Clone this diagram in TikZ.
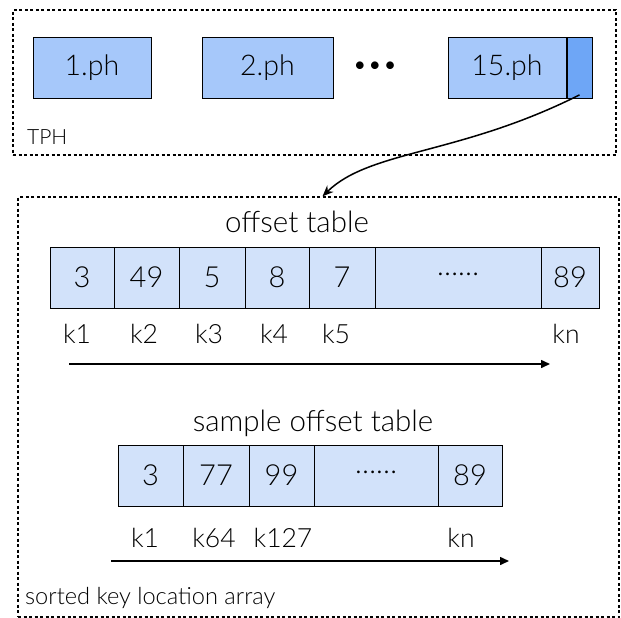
\documentclass[tikz,border=0pt]{standalone}
\usepackage{fontspec}
\setmainfont{Lato}[UprightFont=* Light]
\usetikzlibrary{arrows.meta}
\definecolor{phblue}{RGB}{166,200,250}
\definecolor{segblue}{RGB}{110,166,246}
\definecolor{cellblue}{RGB}{210,226,250}
\newcommand{\fsz}[1]{\fontsize{#1}{#1}\selectfont}

\begin{document}
\begin{tikzpicture}[x=1pt,y=-1pt,
  dashbox/.style={draw, line width=1.3pt, dash pattern=on 3pt off 2.5pt, inner sep=0pt},
  phbox/.style={draw, line width=0.8pt, fill=phblue, minimum height=61pt, inner sep=0pt, font=\fsz{28.5}},
  cell/.style={draw, line width=0.8pt, fill=cellblue, minimum height=61pt, inner sep=0pt, font=\fsz{29}},
  klabel/.style={font=\fsz{26.5}},
  title/.style={font=\fsz{29.5}},
  keyarrow/.style={line width=1.5pt, -{Triangle[length=9pt,width=8pt]}}]
  \useasboundingbox (0,0) rectangle (621,618);
  % TPH
  \node [dashbox, minimum width=603pt, minimum height=145pt] (tph) at (314.5,82.5) {};
  \node [font=\fsz{21}, anchor=west, inner sep=0pt] (tphlabel) at (27,137) {TPH};
  \node [phbox, minimum width=118pt] (ph1) at (92,68) {1.ph};
  \node [phbox, minimum width=131pt] (ph2) at (267.5,68) {2.ph};
  \node [font=\fsz{26}, inner sep=0pt] (phdots) at (375,68) {•••};
  \node [phbox, minimum width=118pt] (ph15) at (507,68) {15.ph};
  \node [phbox, fill=segblue, minimum width=25pt] (seg) at (579.5,68) {};
  % sorted key location array
  \node [dashbox, minimum width=601pt, minimum height=420pt] (ska) at (318.5,407) {};
  \node [font=\fsz{23.6}, anchor=west, inner sep=0pt] (skalabel) at (25,598) {sorted key location array};
  \draw [line width=1.5pt, -{Stealth[length=11pt,width=9pt]}] ([yshift=4pt]seg.south) .. controls (460,155) and (370,150) .. ([xshift=4pt]ska.north);
  % offset table
  \node [title] (otitle) at (297,222) {offset table};
  \node [cell, minimum width=64pt] (o1) at (82,277.5) {3};
  \node [cell, minimum width=65pt] (o2) at (146.5,277.5) {49};
  \node [cell, minimum width=66pt] (o3) at (212,277.5) {5};
  \node [cell, minimum width=64pt] (o4) at (277,277.5) {8};
  \node [cell, minimum width=66pt] (o5) at (342,277.5) {7};
  \node [cell, minimum width=166pt] (o6) at (458,277.5) {\raisebox{0.2em}{……}};
  \node [cell, minimum width=58pt] (o7) at (570,277.5) {89};
  \node [klabel] (ko1) at (77,334) {k1};
  \node [klabel] (ko2) at (144,334) {k2};
  \node [klabel] (ko3) at (209,334) {k3};
  \node [klabel] (ko4) at (274,334) {k4};
  \node [klabel] (ko5) at (336,334) {k5};
  \node [klabel] (ko7) at (566,334) {kn};
  \coordinate (oa) at (69,364);
  \coordinate (ob) at (550,364);
  \draw [keyarrow] (oa) -- (ob);
  % sample offset table
  \node [title] (stitle) at (313,423) {sample offset table};
  \node [cell, minimum width=65pt] (s1) at (150.5,475.5) {3};
  \node [cell, minimum width=66pt] (s2) at (216,475.5) {77};
  \node [cell, minimum width=65pt] (s3) at (281.5,475.5) {99};
  \node [cell, minimum width=124pt] (s4) at (376,475.5) {\raisebox{0.2em}{……}};
  \node [cell, minimum width=64pt] (s5) at (470,475.5) {89};
  \node [klabel] (ks1) at (145,538) {k1};
  \node [klabel] (ks2) at (214,538) {k64};
  \node [klabel] (ks3) at (283,538) {k127};
  \node [klabel] (ks5) at (461,538) {kn};
  \coordinate (sa) at (111,561);
  \coordinate (sb) at (509,561);
  \draw [keyarrow] (sa) -- (sb);
\end{tikzpicture}
\end{document}
